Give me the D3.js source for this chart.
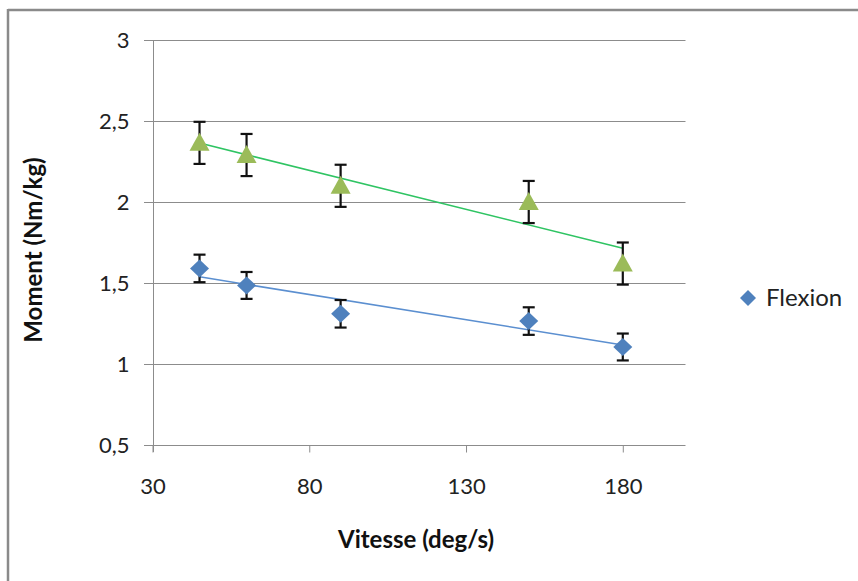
<!DOCTYPE html>
<html><head><meta charset="utf-8">
<script src="https://cdn.jsdelivr.net/npm/d3@7/dist/d3.min.js"></script>
<style>
html,body{margin:0;padding:0;background:#fff;}
svg{display:block;}
text{font-family:Lato,"Open Sans",sans-serif;}
</style></head>
<body>
<svg id="chart" width="858" height="581"></svg>
<script>
const speeds = [45, 60, 90, 150, 180];
const flexion = [1.59, 1.485, 1.31, 1.265, 1.105];
const flexionErr = [0.085, 0.083, 0.085, 0.085, 0.083];
const extension = [2.365, 2.29, 2.10, 2.0, 1.62];
const extensionErr = [0.13, 0.13, 0.13, 0.13, 0.13];
const xTicks = [30, 80, 130, 180];
const yTicks = [0.5, 1, 1.5, 2, 2.5, 3];
const legendLabel = "Flexion";
const xTitle = "Vitesse (deg/s)";
const yTitle = "Moment (Nm/kg)";

const svg = d3.select("#chart");
const x = d3.scaleLinear().domain([30, 200]).range([152.5, 685.5]);
const y = d3.scaleLinear().domain([0.5, 3]).range([445, 40]);

// outer frame (top & left visible)
svg.append("line").attr("x1",8).attr("x2",858).attr("y1",10).attr("y2",10).attr("stroke","#8a8a8a").attr("stroke-width",2.5);
svg.append("line").attr("x1",8).attr("x2",8).attr("y1",9).attr("y2",581).attr("stroke","#8a8a8a").attr("stroke-width",2.5);

// gridlines
svg.append("g").selectAll("line").data(yTicks).join("line")
  .attr("x1", 144).attr("x2", x(200))
  .attr("y1", d => Math.round(y(d)) + 0.5).attr("y2", d => Math.round(y(d)) + 0.5)
  .attr("stroke", "#8c8c8c").attr("stroke-width", 1);

// y axis
const yAxis = d3.axisLeft(y).tickValues(yTicks).tickSize(0).tickPadding(24)
  .tickFormat(d => String(d).replace(".", ","));
const gy = svg.append("g").attr("transform", `translate(${Math.round(x(30))+0.5},0)`).call(yAxis);
gy.select(".domain").remove();
gy.selectAll("text").attr("font-size", 22).attr("fill", "#222").attr("font-family","Lato, sans-serif");
svg.append("line").attr("x1", Math.round(x(30))+0.5).attr("x2", Math.round(x(30))+0.5)
  .attr("y1", y(3)).attr("y2", y(0.5)+7).attr("stroke","#8c8c8c");

// x axis
const xAxis = d3.axisBottom(x).tickValues(xTicks).tickSize(7).tickPadding(26).tickFormat(d3.format("d"));
const gx = svg.append("g").attr("transform", `translate(0,${Math.round(y(0.5))+0.5})`).call(xAxis);
gx.select(".domain").remove();
gx.selectAll("line").attr("stroke", "#8c8c8c");
gx.selectAll("text").attr("font-size", 22).attr("fill", "#222").attr("font-family","Lato, sans-serif");

// regression trendlines
function fit(xs, ys) {
  const mx = d3.mean(xs), my = d3.mean(ys);
  const b = d3.sum(xs, (v,i) => (v-mx)*(ys[i]-my)) / d3.sum(xs, v => (v-mx)*(v-mx));
  return v => my + b*(v-mx);
}
const xmin = d3.min(speeds), xmax = d3.max(speeds);
[[flexion, "#5b8fd0"], [extension, "#2fc463"]].forEach(([vals, col]) => {
  const f = fit(speeds, vals);
  svg.append("line").attr("x1", x(xmin)).attr("y1", y(f(xmin)))
    .attr("x2", x(xmax)).attr("y2", y(f(xmax)))
    .attr("stroke", col).attr("stroke-width", 1.5);
});

// error bars
function errBars(vals, errs) {
  const g = svg.append("g").attr("stroke", "#111").attr("stroke-width", 2.2);
  speeds.forEach((s, i) => {
    const cx = x(s), t = y(vals[i] + errs[i]), b = y(vals[i] - errs[i]);
    g.append("line").attr("x1", cx).attr("x2", cx).attr("y1", t).attr("y2", b);
    g.append("line").attr("x1", cx-6).attr("x2", cx+6).attr("y1", t).attr("y2", t);
    g.append("line").attr("x1", cx-6).attr("x2", cx+6).attr("y1", b).attr("y2", b);
  });
}
errBars(extension, extensionErr);
errBars(flexion, flexionErr);

// markers
svg.append("g").selectAll("path").data(speeds).join("path")
  .attr("d", (s, i) => {
    const cx = x(s), cy = y(extension[i]);
    return `M${cx},${cy-10}L${cx+10},${cy+8}L${cx-10},${cy+8}Z`;
  }).attr("fill", "#9bbb59");
svg.append("g").selectAll("path").data(speeds).join("path")
  .attr("d", (s, i) => {
    const cx = x(s), cy = y(flexion[i]);
    return `M${cx},${cy-9}L${cx+9.5},${cy}L${cx},${cy+9}L${cx-9.5},${cy}Z`;
  }).attr("fill", "#4f81bd");

// legend
svg.append("path").attr("d", "M748,290L756,298L748,306L740,298Z").attr("fill", "#4f81bd");
svg.append("text").attr("x", 766).attr("y", 306).attr("font-size", 24).attr("fill", "#222").text(legendLabel);

// axis titles
svg.append("text").attr("x", 416).attr("y", 548).attr("text-anchor","middle")
  .attr("font-size", 24).attr("font-weight","bold").attr("fill","#111").text(xTitle);
svg.append("text").attr("transform","translate(42,250) rotate(-90)").attr("text-anchor","middle")
  .attr("font-size", 24).attr("font-weight","bold").attr("fill","#111").text(yTitle);
</script>
</body></html>
